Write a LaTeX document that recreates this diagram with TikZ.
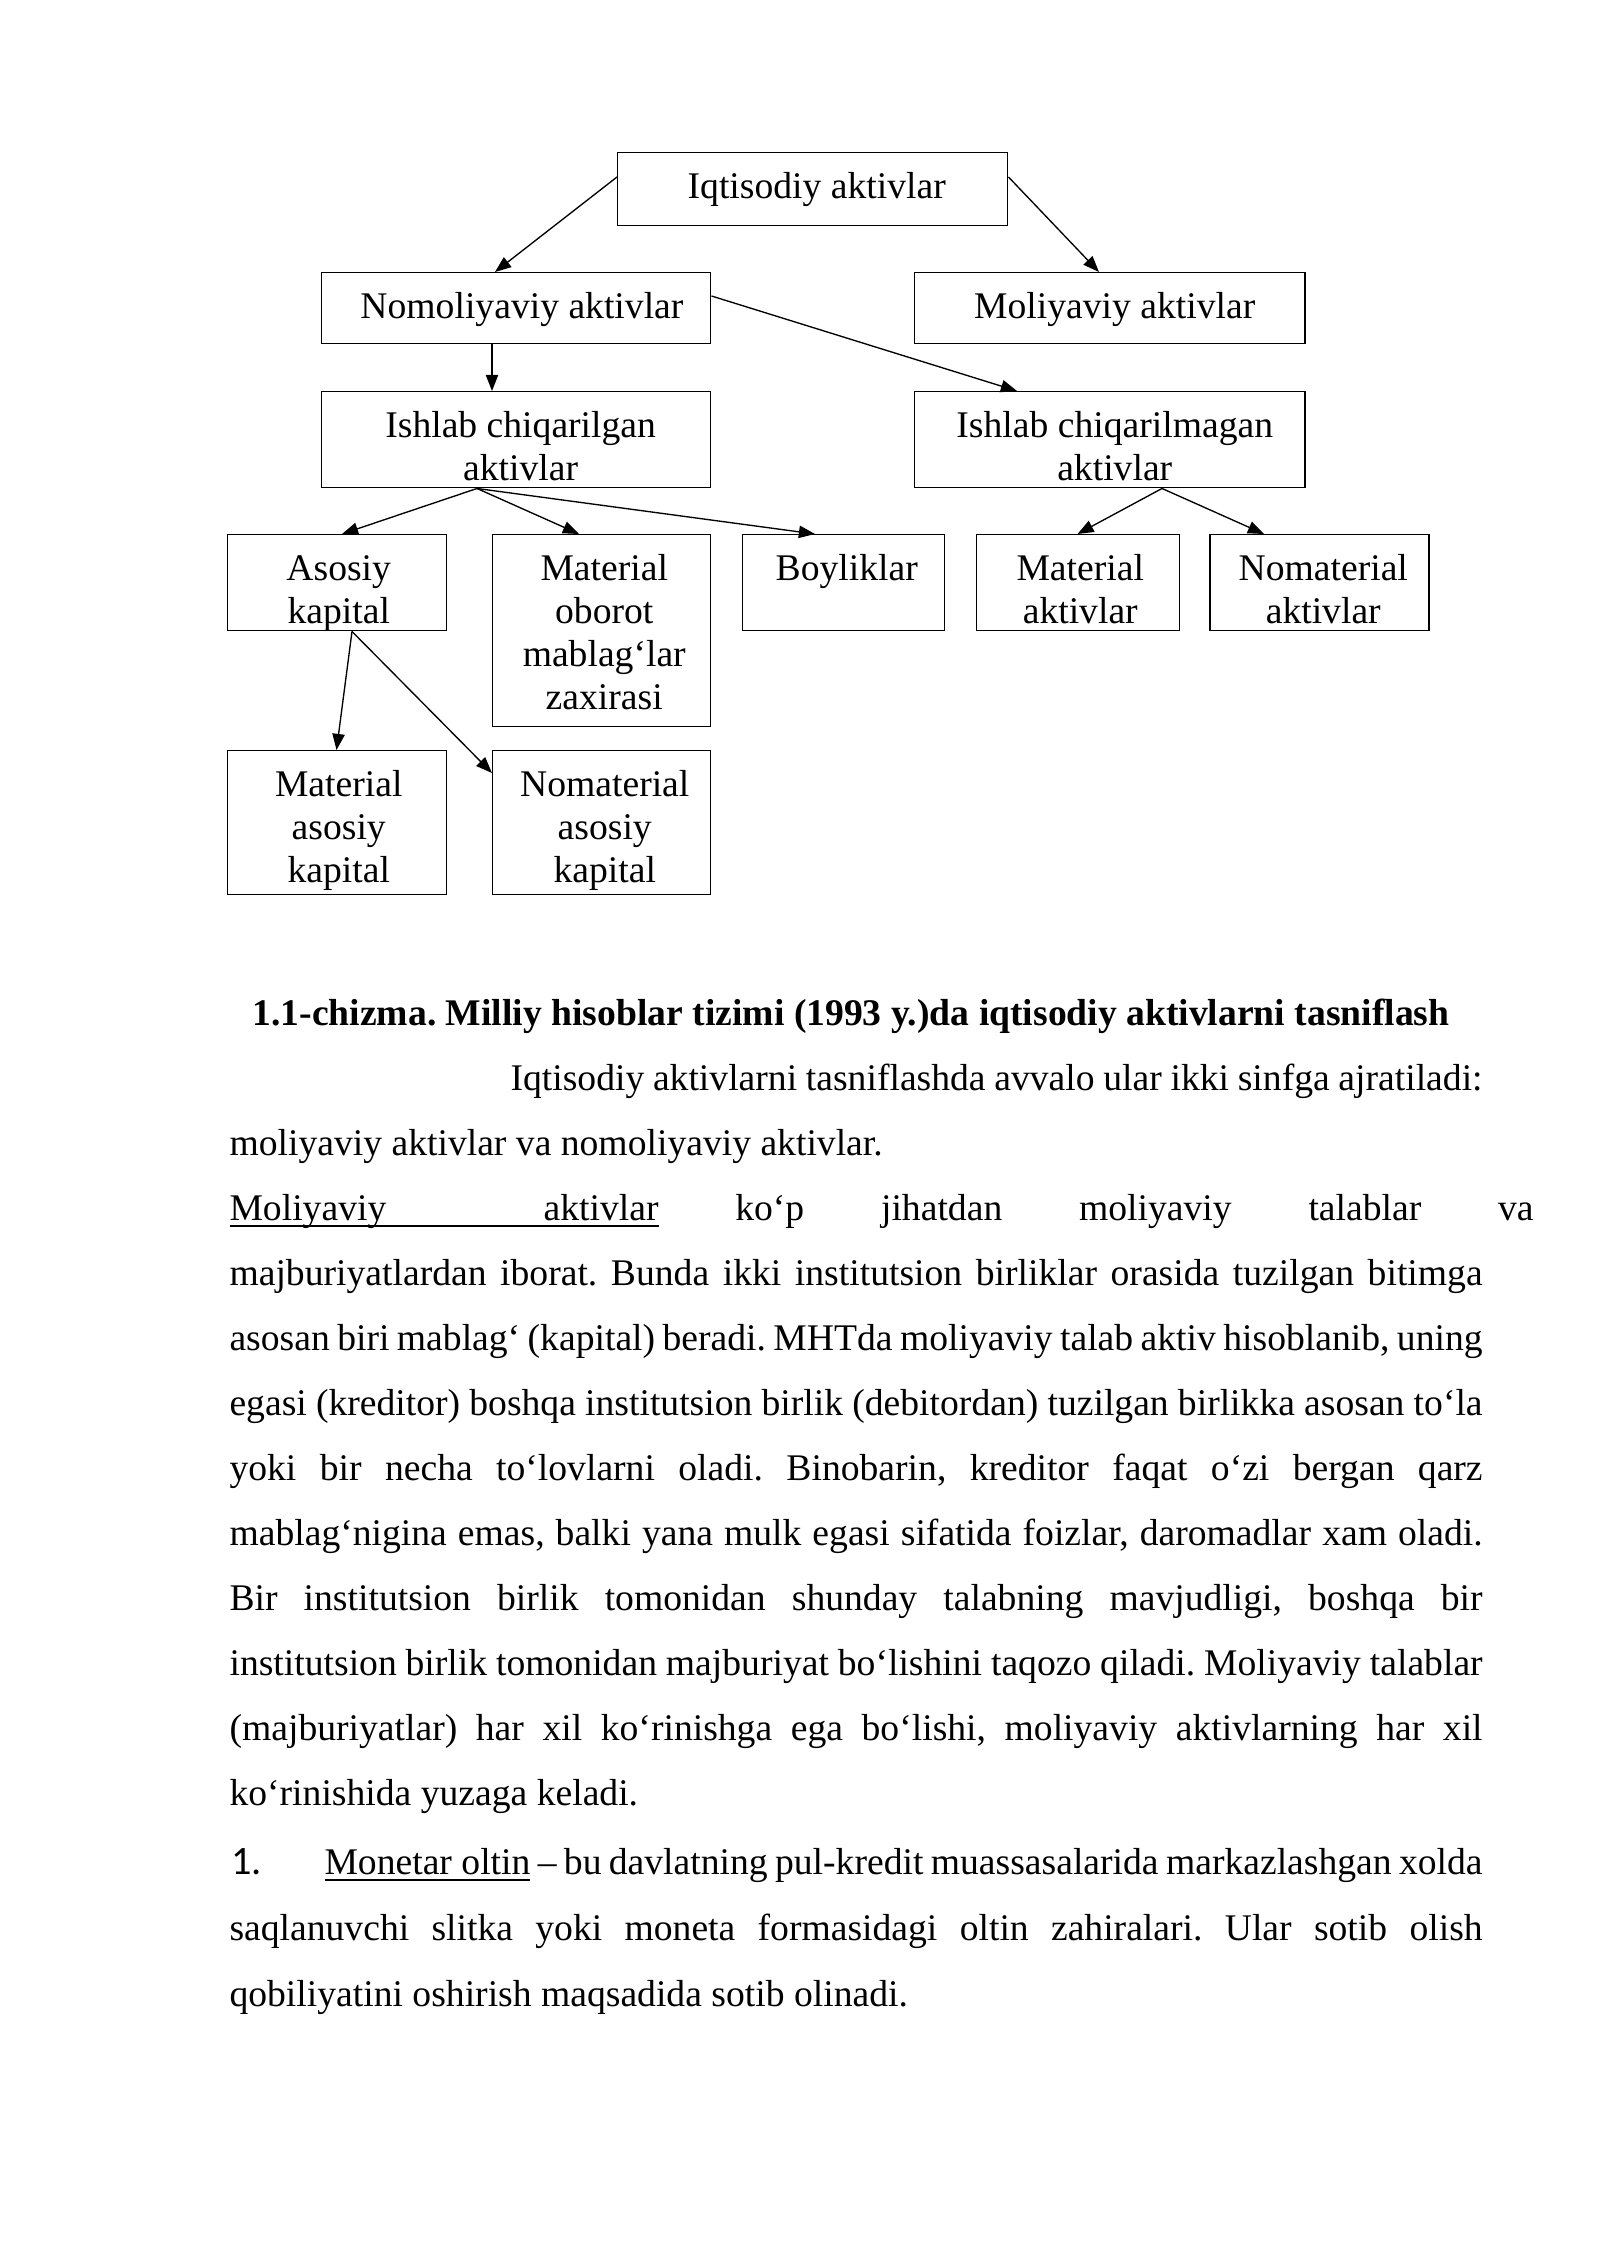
\documentclass[tikz,border=0pt]{standalone}
\usepackage{fontspec}
\setmainfont{Liberation Serif}
\newfontfamily\numfont{Carlito}
\usetikzlibrary{arrows.meta}
\frenchspacing
\newdimen\pxu \pxu=0.37206pt
\newcommand\MyUl[1]{\setbox0\hbox{#1}\rlap{\rule[-2.5pt]{\wd0}{0.65pt}}\box0\relax}
\newcommand\JL[2]{\makebox[#1\pxu][s]{#2}}
\tikzset{
  box/.style={draw, line width=0.55pt, inner sep=0pt, anchor=north west},
  boxtxt/.style={inner sep=0pt, align=center, anchor=north, font=\fontsize{14pt}{16pt}\selectfont},
  txt/.style={inner sep=0pt, anchor=base west, font=\fontsize{14pt}{16pt}\selectfont},
  arr/.style={line width=0.5pt, -{Triangle[length=6pt,width=4.6pt]}}
}
\newcommand\MyBox[7]{%
  \node[box, minimum width=#4\pxu, minimum height=#5\pxu] (#1) at (#2,#3) {};
  \node[boxtxt] (#1t) at ([yshift=-13.75\pxu, xshift=#6\pxu]#1.north) {\rule{0pt}{12pt}#7};
}
\begin{document}
\begin{tikzpicture}[x=\pxu, y=-\pxu]
\fill[white] (0,0) rectangle (1600,2262);
\useasboundingbox (0,0) rectangle (1600,2262);

% boxes: name, left, top, width, height, text xshift, text
\MyBox{iqt}{617}{152}{390}{73}{4}{Iqtisodiy aktivlar}
\MyBox{nom}{321}{272}{389}{71}{5.7}{Nomoliyaviy aktivlar}
\MyBox{mol}{914}{272}{390}{71}{5}{Moliyaviy aktivlar}
\MyBox{ich}{321}{391}{389}{96}{4.4}{Ishlab chiqarilgan\\aktivlar}
\MyBox{ichm}{914}{391}{390}{96}{5}{Ishlab chiqarilmagan\\aktivlar}
\MyBox{asos}{227}{534}{219}{96}{1.5}{Asosiy\\kapital}
\MyBox{mob}{492}{534}{218}{192}{2.5}{Material\\oborot\\mablag‘lar\\zaxirasi}
\MyBox{boy}{742}{534}{202}{96}{3}{Boyliklar}
\MyBox{mak}{976}{534}{203}{96}{2}{Material\\aktivlar}
\MyBox{nmak}{1209}{534}{219}{96}{4}{Nomaterial\\aktivlar}
\MyBox{masos}{227}{750}{219}{144}{1.5}{Material\\asosiy\\kapital}
\MyBox{nmasos}{492}{750}{218}{144}{3}{Nomaterial\\asosiy\\kapital}

% connectors
\draw[arr] ([yshift=-25\pxu]iqt.north west) -- ([xshift=174\pxu]nom.north west);
\draw[arr] ([yshift=-25\pxu]iqt.north east) -- ([xshift=185\pxu]mol.north west);
\draw[arr] ([xshift=171\pxu]nom.south west) -- ([xshift=171\pxu]ich.north west);
\draw[arr] ([yshift=-24\pxu]nom.north east) -- ([xshift=103\pxu]ichm.north west);
\draw[arr] ([xshift=156\pxu]ich.south west) -- ([xshift=115\pxu]asos.north west);
\draw[arr] ([xshift=156\pxu]ich.south west) -- ([xshift=87\pxu]mob.north west);
\draw[arr] ([xshift=156\pxu]ich.south west) -- ([xshift=73\pxu]boy.north west);
\draw[arr] ([xshift=248\pxu]ichm.south west) -- ([xshift=101.5\pxu]mak.north west);
\draw[arr] ([xshift=248\pxu]ichm.south west) -- ([xshift=55\pxu]nmak.north west);
\draw[arr] ([xshift=125\pxu]asos.south west) -- ([xshift=109.5\pxu]masos.north west);
\draw[arr] ([xshift=125\pxu]asos.south west) -- ([yshift=-23\pxu]nmasos.north west);

% caption
\node[txt, anchor=base, font=\fontsize{14pt}{16pt}\selectfont\bfseries] (cap) at (851,1025)
  {1.1-chizma. Milliy hisoblar tizimi (1993 y.)da iqtisodiy aktivlarni tasniflash};

% body text
\node[txt] (l1) at (510,1090) {\JL{972}{Iqtisodiy aktivlarni tasniflashda avvalo ular ikki sinfga ajratiladi:}};
\node[txt] (l2) at (229,1155) {moliyaviy aktivlar va nomoliyaviy aktivlar.};
\node[txt] (l3) at (229,1220) {\JL{1304}{\MyUl{\JL{429}{Moliyaviy aktivlar}} ko‘p jihatdan moliyaviy talablar va}};
\node[txt] (l4) at (229,1285) {\JL{1253}{majburiyatlardan iborat. Bunda ikki institutsion birliklar orasida tuzilgan bitimga}};
\node[txt] (l5) at (229,1350) {\JL{1253}{asosan biri mablag‘ (kapital) beradi. MHTda moliyaviy talab aktiv hisoblanib, uning}};
\node[txt] (l6) at (229,1415) {\JL{1253}{egasi (kreditor) boshqa institutsion birlik (debitordan) tuzilgan birlikka asosan to‘la}};
\node[txt] (l7) at (229,1480) {\JL{1253}{yoki bir necha to‘lovlarni oladi. Binobarin, kreditor faqat o‘zi bergan qarz}};
\node[txt] (l8) at (229,1545) {\JL{1253}{mablag‘nigina emas, balki yana mulk egasi sifatida foizlar, daromadlar xam oladi.}};
\node[txt] (l9) at (229,1610) {\JL{1253}{Bir institutsion birlik tomonidan shunday talabning mavjudligi, boshqa bir}};
\node[txt] (l10) at (229,1675) {\JL{1253}{institutsion birlik tomonidan majburiyat bo‘lishini taqozo qiladi. Moliyaviy talablar}};
\node[txt] (l11) at (229,1740) {\JL{1253}{(majburiyatlar) har xil ko‘rinishga ega bo‘lishi, moliyaviy aktivlarning har xil}};
\node[txt] (l12) at (229,1805) {ko‘rinishida yuzaga keladi.};
\node[txt, font=\fontsize{15pt}{17pt}\numfont] (n1) at (231,1874) {1.};
\node[txt] (l13) at (324,1874) {\JL{1158}{\MyUl{Monetar oltin} – bu davlatning pul-kredit muassasalarida markazlashgan xolda}};
\node[txt] (l14) at (229,1940) {\JL{1253}{saqlanuvchi slitka yoki moneta formasidagi oltin zahiralari. Ular sotib olish}};
\node[txt] (l15) at (229,2006) {qobiliyatini oshirish maqsadida sotib olinadi.};
\end{tikzpicture}
\end{document}
